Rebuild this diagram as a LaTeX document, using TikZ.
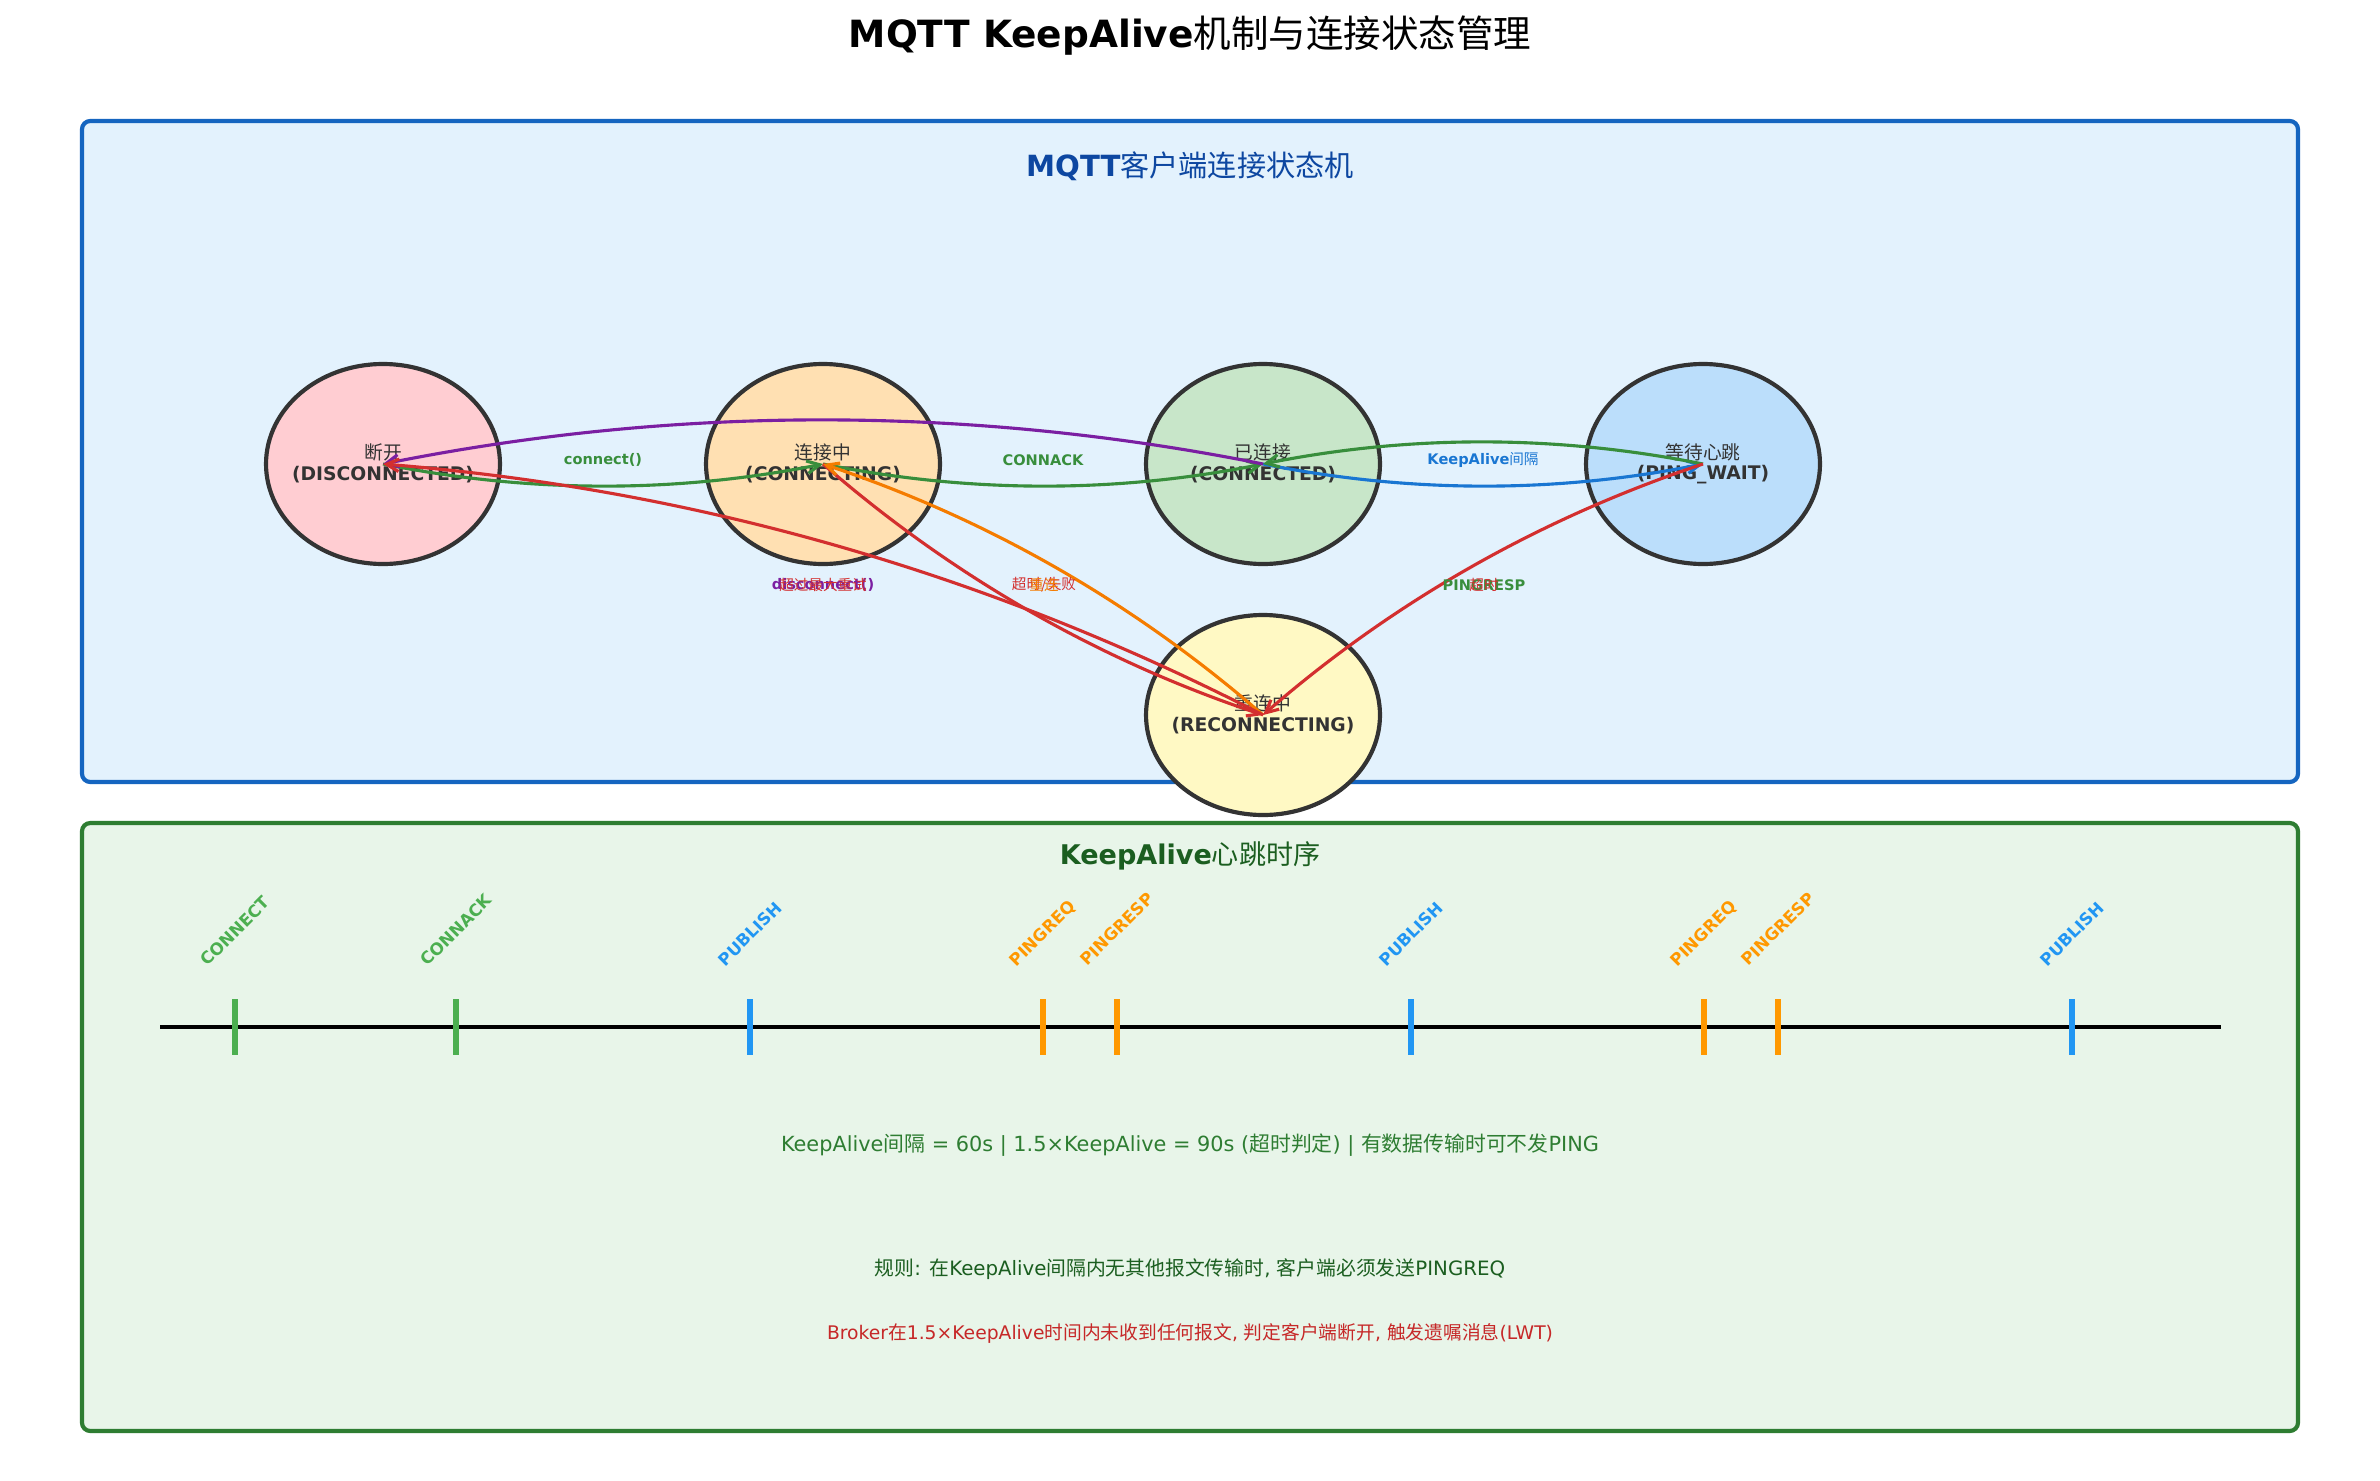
\documentclass[tikz,border=0pt]{standalone}
\usepackage{fontspec}
\setmainfont{DejaVu Sans}
\newfontfamily\cjkfont{Noto Sans CJK SC}
\newcommand{\zh}[1]{{\cjkfont\mdseries #1}}
\usetikzlibrary{arrows.meta,calc,shapes.geometric}
\definecolor{topborder}{HTML}{1565C0}
\definecolor{topfill}{HTML}{E3F2FD}
\definecolor{botborder}{HTML}{2E7D32}
\definecolor{botfill}{HTML}{E8F5E9}
\definecolor{toptitle}{HTML}{0D47A1}
\definecolor{bottitle}{HTML}{1B5E20}
\definecolor{nodeedge}{HTML}{333333}
\definecolor{fdisc}{HTML}{FFCDD2}
\definecolor{fcing}{HTML}{FFE0B2}
\definecolor{fced}{HTML}{C8E6C9}
\definecolor{fping}{HTML}{BBDEFB}
\definecolor{frec}{HTML}{FFF9C4}
\definecolor{egreen}{HTML}{388E3C}
\definecolor{eblue}{HTML}{1976D2}
\definecolor{ered}{HTML}{D32F2F}
\definecolor{eorange}{HTML}{F57C00}
\definecolor{epurple}{HTML}{7B1FA2}
\definecolor{tgreen}{HTML}{4CAF50}
\definecolor{tblue}{HTML}{2196F3}
\definecolor{torange}{HTML}{FF9800}
\definecolor{infogreen}{HTML}{2E7D32}
\definecolor{rulegreen}{HTML}{1B5E20}
\definecolor{rulered}{HTML}{C62828}
\tikzset{
  stnode/.style={ellipse, draw=nodeedge, line width=2pt, minimum width=112.3pt, minimum height=96pt, inner sep=0pt},
  zhline/.style={font=\fontsize{9}{11}\selectfont\cjkfont, text=nodeedge, inner sep=0pt},
  enline/.style={font=\fontsize{9}{11}\selectfont\bfseries, text=nodeedge, inner sep=0pt},
  trans/.style={line width=1.5pt, -{Straight Barb[length=6pt,width=6pt]}},
  elabel/.style={font=\fontsize{7}{8}\selectfont\bfseries, inner sep=0pt},
  zhlabel/.style={font=\fontsize{7}{8}\selectfont\cjkfont, inner sep=0pt},
  tmark/.style={line width=3pt},
  tlabel/.style={font=\fontsize{8}{9}\selectfont\bfseries, rotate=45, inner sep=0pt},
  panel/.style={line width=2pt, rounded corners=4pt},
}
\newcommand{\qedge}[3]{%
  \coordinate (qc) at ($(#1)!0.5!(#2)!0.2!-90:(#2)$);
  \draw[trans,#3] (#1) .. controls ($(#1)!0.6667!(qc)$) and ($(#2)!0.6667!(qc)$) .. (#2);
}
\begin{document}
\begin{tikzpicture}[x=0.48pt,y=-0.48pt]
\useasboundingbox (0,0) rectangle (2380,1480);
\fill[white] (0,0) rectangle (2380,1480);

\node[font=\fontsize{18}{22}\selectfont\bfseries] (title) at (1190,36) {MQTT KeepAlive\zh{机制与连接状态管理}};

% panels
\draw[panel, draw=topborder, fill=topfill] (82,121) rectangle (2298,782);
\draw[panel, draw=botborder, fill=botfill] (82,823) rectangle (2298,1431);

\node[font=\fontsize{14}{17}\selectfont\bfseries, text=toptitle] (toptitle) at (1190,166) {MQTT\zh{客户端连接状态机}};
\node[font=\fontsize{13}{16}\selectfont\bfseries, text=bottitle] (bottitle) at (1190,856) {KeepAlive\zh{心跳时序}};

% states
\node[stnode, fill=fdisc] (disc) at (383,464) {};
\node[stnode, fill=fcing] (cing) at (823,464) {};
\node[stnode, fill=fced] (ced) at (1263,464) {};
\node[stnode, fill=fping] (ping) at (1703,464) {};
\node[stnode, fill=frec] (rec) at (1263,715) {};

\node[zhline] (disc-zh) at (383,452) {断开};
\node[enline] (disc-en) at (383,475) {(DISCONNECTED)};
\node[zhline] (cing-zh) at (823,452) {连接中};
\node[enline] (cing-en) at (823,475) {(CONNECTING)};
\node[zhline] (ced-zh) at (1263,452) {已连接};
\node[enline] (ced-en) at (1263,475) {(CONNECTED)};
\node[zhline] (ping-zh) at (1703,452) {等待心跳};
\node[enline] (ping-en) at (1703,475) {(PING\_WAIT)};
\node[zhline] (rec-zh) at (1263,703) {重连中};
\node[enline] (rec-en) at (1263,726) {(RECONNECTING)};

% transitions
\qedge{disc.center}{cing.center}{egreen}
\qedge{cing.center}{ced.center}{egreen}
\qedge{ced.center}{ping.center}{eblue}
\qedge{ping.center}{ced.center}{egreen}
\qedge{ced.center}{disc.center}{epurple}
\qedge{cing.center}{rec.center}{ered}
\qedge{rec.center}{cing.center}{eorange}
\qedge{ping.center}{rec.center}{ered}
\qedge{rec.center}{disc.center}{ered}

% transition labels
\node[elabel, text=egreen] (l-connect) at (603,460) {connect()};
\node[elabel, text=egreen] (l-connack) at (1043,460) {CONNACK};
\node[elabel, text=eblue] (l-ka) at (1483,460) {KeepAlive\zh{间隔}};
\node[elabel, text=epurple] (l-disc) at (823,585) {disconnect()};
\node[zhlabel, text=ered] (l-maxretry) at (823,585) {超过最大重试};
\node[zhlabel, text=ered] (l-timeout1) at (1044,585) {超时/失败};
\node[zhlabel, text=eorange] (l-reconn) at (1044,585) {重连};
\node[elabel, text=egreen] (l-pingresp) at (1484,585) {PINGRESP};
\node[zhlabel, text=ered] (l-timeout2) at (1484,585) {超时};

% timeline
\coordinate (tl-start) at (160,1027);
\coordinate (tl-end) at (2221,1027);
\draw[line width=2pt, black] (tl-start) -- (tl-end);
\foreach \x/\c/\t/\y in {235/tgreen/CONNECT/931, 456/tgreen/CONNACK/930, 750/tblue/PUBLISH/934, 1043/torange/PINGREQ/934, 1117/torange/PINGRESP/929, 1411/tblue/PUBLISH/934, 1704/torange/PINGREQ/934, 1778/torange/PINGRESP/929, 2072/tblue/PUBLISH/934}{
  \coordinate (tk-\x-a) at (\x,999);
  \coordinate (tk-\x-b) at (\x,1055);
  \draw[tmark, \c] (tk-\x-a) -- (tk-\x-b);
  \node[tlabel, text=\c] (tl-\x) at (\x,\y) {\t};
}

% notes
\node[font=\fontsize{10}{12}\selectfont, text=infogreen] (info) at (1190,1145) {KeepAlive\zh{间隔} = 60s | 1.5×KeepAlive = 90s (\zh{超时判定}) | \zh{有数据传输时可不发}PING};
\node[font=\fontsize{9.5}{11}\selectfont, text=rulegreen] (rule1) at (1190,1269) {\zh{规则}: \zh{在}KeepAlive\zh{间隔内无其他报文传输时}, \zh{客户端必须发送}PINGREQ};
\node[font=\fontsize{9}{11}\selectfont, text=rulered] (rule2) at (1190,1333) {Broker\zh{在}1.5×KeepAlive\zh{时间内未收到任何报文}, \zh{判定客户端断开}, \zh{触发遗嘱消息}(LWT)};
\end{tikzpicture}
\end{document}
